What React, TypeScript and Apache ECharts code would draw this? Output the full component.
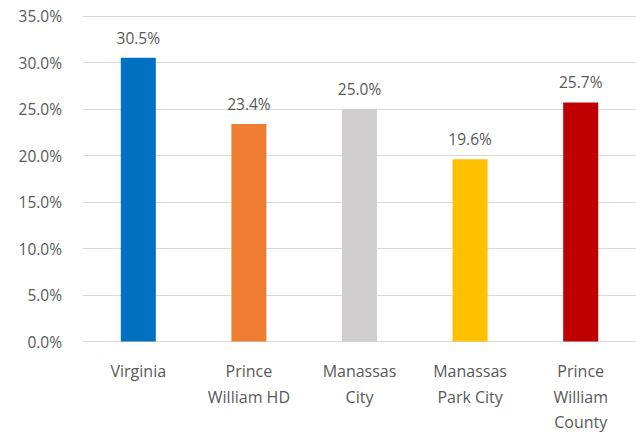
import React, { useEffect, useRef } from "react";
import * as echarts from "echarts";

const categories = ["Virginia", "Prince\nWilliam HD", "Manassas\nCity", "Manassas\nPark City", "Prince\nWilliam\nCounty"];
const values = [30.5, 23.4, 25.0, 19.6, 25.7];
const barColors = ["#0070C0", "#ED7D31", "#D0CECE", "#FFC000", "#C00000"];
const yTicks = { min: 0, max: 35, interval: 5 };

export default function App() {
  const ref = useRef<HTMLDivElement>(null);
  useEffect(() => {
    const chart = echarts.init(ref.current!, null, { renderer: "svg" });
    const font = "'Open Sans', sans-serif";
    chart.setOption({
      animation: false,
      backgroundColor: "#ffffff",
      grid: { left: 83, top: 16, width: 558, height: 329, containLabel: false },
      xAxis: {
        type: "category",
        data: categories,
        axisLine: { show: true, lineStyle: { color: "#d9d9d9", width: 1 } },
        axisTick: { show: false },
        axisLabel: {
          color: "#595959",
          fontFamily: font,
          fontSize: 16,
          lineHeight: 25.5,
          margin: 17,
          interval: 0,
        },
      },
      yAxis: {
        type: "value",
        min: yTicks.min,
        max: yTicks.max,
        interval: yTicks.interval,
        axisLine: { show: false },
        axisTick: { show: false },
        splitLine: { lineStyle: { color: "#d9d9d9", width: 1 } },
        axisLabel: {
          color: "#595959",
          fontFamily: font,
          fontSize: 15.5,
          margin: 21,
          formatter: (v: number) => v.toFixed(1) + "%",
        },
      },
      series: [
        {
          type: "bar",
          barWidth: 35,
          data: values.map((v, i) => ({ value: v, itemStyle: { color: barColors[i] } })),
          label: {
            show: true,
            position: "top",
            distance: 12,
            color: "#595959",
            fontFamily: font,
            fontSize: 15.5,
            formatter: (p: any) => Number(p.value).toFixed(1) + "%",
          },
        },
      ],
    });
    return () => chart.dispose();
  }, []);
  return <div ref={ref} style={{ width: 636, height: 435, position: "absolute", left: 0, top: 0 }} />;
}
